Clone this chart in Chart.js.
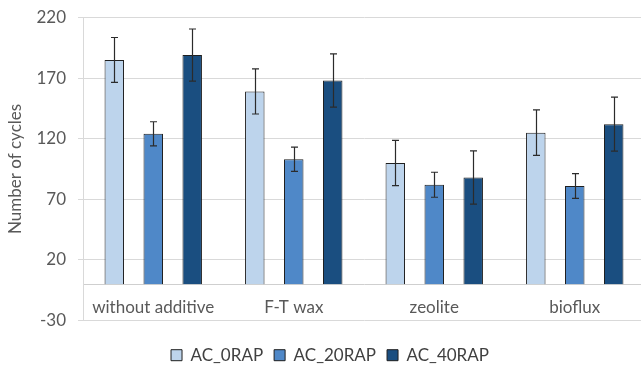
<!DOCTYPE html>
<html>
<head>
<meta charset="utf-8">
<script src="https://cdn.jsdelivr.net/npm/chart.js@4/dist/chart.umd.min.js"></script>
<style>
html,body{margin:0;padding:0;background:#fff;overflow:hidden;}
#wrap{width:660px;height:366px;}
</style>
</head>
<body>
<div id="wrap"><canvas id="c" width="660" height="366"></canvas></div>
<script>
const categories = ["without additive", "F-T wax", "zeolite", "bioflux"];
const seriesNames = ["AC_0RAP", "AC_20RAP", "AC_40RAP"];
const ac0 = [185, 159, 100, 125];
const ac20 = [124, 103, 82, 81];
const ac40 = [189, 168, 88, 132];
const err0 = [18.5, 18.6, 18.7, 18.8];
const err20 = [10, 10, 10.3, 10.2];
const err40 = [21.5, 22, 22, 22.3];
const yTicks = [-30, 20, 70, 120, 170, 220];

const colors = ["#BDD4EC", "#4F88C8", "#1A4E80"];
const values = [ac0, ac20, ac40];
const errors = [err0, err20, err40];

const FONT = "Lato, 'Open Sans', sans-serif";

const errorBarPlugin = {
  id: 'errorBars',
  afterDatasetsDraw(chart) {
    const ctx = chart.ctx;
    const y = chart.scales.y;
    ctx.save();
    ctx.strokeStyle = '#2b2b2b';
    ctx.lineWidth = 1.2;
    chart.data.datasets.forEach((ds, di) => {
      const meta = chart.getDatasetMeta(di);
      meta.data.forEach((bar, i) => {
        const v = ds.data[i];
        const e = ds.errors[i];
        const x = Math.round(bar.x) + 0.5;
        const yt = y.getPixelForValue(v + e);
        const yb = y.getPixelForValue(v - e);
        const cap = 3.5;
        ctx.beginPath();
        ctx.moveTo(x, yt); ctx.lineTo(x, yb);
        ctx.moveTo(x - cap, yt); ctx.lineTo(x + cap, yt);
        ctx.moveTo(x - cap, yb); ctx.lineTo(x + cap, yb);
        ctx.stroke();
      });
    });
    ctx.restore();
  }
};

new Chart(document.getElementById('c'), {
  type: 'bar',
  data: {
    labels: categories,
    datasets: seriesNames.map((n, k) => ({
      label: n,
      data: values[k],
      errors: errors[k],
      backgroundColor: colors[k],
      borderColor: '#1f1f1f',
      borderWidth: 1,
      categoryPercentage: 0.832,
      barPercentage: 0.5
    }))
  },
  options: {
    responsive: false,
    animation: false,
    devicePixelRatio: 1,
    layout: { padding: { top: 17.5, right: 15, left: 15, bottom: 0 } },
    plugins: {
      tooltip: { enabled: false },
      legend: {
        position: 'bottom',
        maxHeight: 45.5,
        title: { display: true, text: '', font: { size: 1 }, padding: { top: 14, bottom: 0 } },
        labels: {
          font: { family: FONT, size: 17 },
          color: '#404040',
          boxWidth: 11,
          boxHeight: 11,
          padding: 11
        }
      }
    },
    scales: {
      x: {
        position: { y: 0 },
        grid: { display: false, drawTicks: false },
        border: { display: true, color: '#cfcfcf', width: 1 },
        ticks: { font: { family: FONT, size: 17 }, color: '#595959', padding: 13 }
      },
      y: {
        min: -30,
        max: 220,
        afterFit(s) { s.width = 68; s.paddingTop = 0; s.paddingBottom = 0; },
        afterBuildTicks(s) { s.ticks = yTicks.map(v => ({ value: v })); },
        grid: { color: '#d9d9d9', tickLength: 5, lineWidth: 1 },
        border: { display: true, color: '#d9d9d9' },
        ticks: { font: { family: FONT, size: 17 }, color: '#595959', padding: 12 },
        title: {
          display: true,
          text: 'Number of cycles',
          font: { family: FONT, size: 17 },
          color: '#595959',
          padding: { top: -10, bottom: 0 }
        }
      }
    }
  },
  plugins: [errorBarPlugin]
});
</script>
</body>
</html>
